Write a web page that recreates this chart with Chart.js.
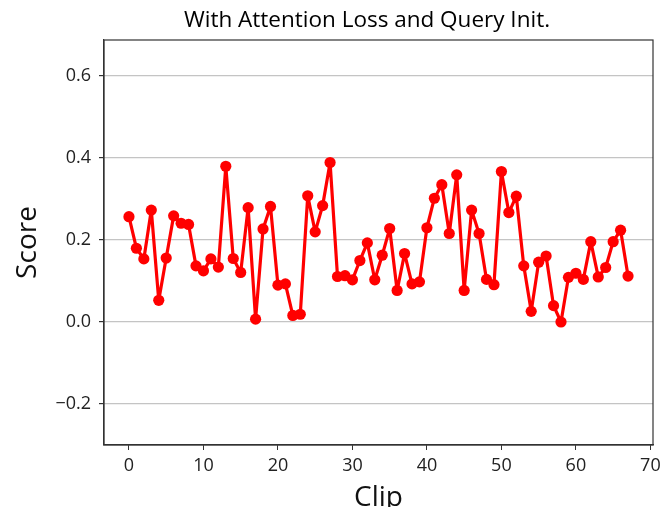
<!DOCTYPE html>
<html>
<head>
<meta charset="utf-8">
<script src="https://cdn.jsdelivr.net/npm/chart.js@4"></script>
<style>
  html, body { margin:0; padding:0; background:#fff; }
  #wrap { width:666px; height:507px; }
</style>
</head>
<body>
<div id="wrap"><canvas id="scoreChart" width="666" height="507"></canvas></div>
<script>
// ===== 資料 =====
const clips = Array.from({length:68}, (_, i) => i);
const scores = [
  0.257, 0.180, 0.154, 0.273, 0.053, 0.156, 0.259, 0.241, 0.238, 0.137,
  0.125, 0.154, 0.134, 0.380, 0.155, 0.121, 0.279, 0.007, 0.227, 0.282,
  0.090, 0.093, 0.016, 0.019, 0.308, 0.220, 0.284, 0.389, 0.111, 0.113,
  0.103, 0.150, 0.193, 0.103, 0.163, 0.228, 0.077, 0.167, 0.093, 0.098,
  0.230, 0.302, 0.335, 0.216, 0.359, 0.077, 0.273, 0.216, 0.104, 0.091,
  0.367, 0.267, 0.307, 0.137, 0.026, 0.146, 0.161, 0.040, 0.000, 0.109,
  0.119, 0.104, 0.196, 0.110, 0.133, 0.196, 0.224, 0.112
];
const xTicks = [0, 10, 20, 30, 40, 50, 60, 70];
const yTicks = [-0.2, 0.0, 0.2, 0.4, 0.6];
const titleText = 'With Attention Loss and Query Init.';

const FONT = '"Open Sans", "DejaVu Sans", sans-serif';

// 標題與外框（四邊 spine）
const framePlugin = {
  id:'frame',
  afterDraw(chart){
    const {ctx, chartArea:a} = chart;
    ctx.save();
    ctx.strokeStyle = '#333';
    ctx.lineWidth = 1.2;
    ctx.strokeRect(a.left, a.top, a.right - a.left, a.bottom - a.top);
    ctx.fillStyle = '#000';
    ctx.font = '22.5px ' + FONT;
    ctx.textAlign = 'center';
    ctx.textBaseline = 'alphabetic';
    ctx.fillText(titleText, 367, 27);
    ctx.restore();
  }
};

const ctx = document.getElementById('scoreChart').getContext('2d');
new Chart(ctx, {
  type:'line',
  data:{
    datasets:[{
      data: clips.map((c, i) => ({x:c, y:scores[i]})),
      borderColor:'#ff0000',
      backgroundColor:'#ff0000',
      borderWidth:3.2,
      borderJoinStyle:'round',
      borderCapStyle:'round',
      pointRadius:5.6,
      pointBorderWidth:0,
      tension:0
    }]
  },
  options:{
    responsive:false,
    animation:false,
    layout:{ padding:{ top:40, right:13, left:0, bottom:0 } },
    plugins:{ legend:{ display:false }, tooltip:{ enabled:false } },
    scales:{
      x:{
        type:'linear',
        min:-3.35, max:70.35,
        afterBuildTicks: s => { s.ticks = xTicks.map(v => ({value:v})); },
        afterFit: s => { s.height = 62; },
        grid:{ drawOnChartArea:false, drawTicks:true, tickLength:5, tickColor:'#333' },
        border:{ display:true, color:'#333', width:1.2 },
        ticks:{ color:'#222', font:{ family:FONT, size:18 }, padding:5, autoSkip:false, maxRotation:0 },
        title:{ display:true, text:'Clip', color:'#111', font:{ family:FONT, size:28 }, padding:{ top:0, bottom:-8 } }
      },
      y:{
        min:-0.3, max:0.688,
        afterBuildTicks: s => { s.ticks = yTicks.map(v => ({value:v})); },
        afterFit: s => { s.width = 104; },
        grid:{ color:'#c4c4c4', lineWidth:1.2, drawTicks:true, tickLength:5, tickColor:'#333' },
        border:{ display:true, color:'#333', width:1.2 },
        ticks:{
          color:'#222', font:{ family:FONT, size:18 }, padding:8,
          callback: v => (v < 0 ? '\u2212' + Math.abs(v).toFixed(1) : v.toFixed(1))
        },
        title:{ display:true, text:'Score', color:'#111', font:{ family:FONT, size:28 }, padding:{ top:11, bottom:0 } }
      }
    }
  },
  plugins:[framePlugin]
});
</script>
</body>
</html>
